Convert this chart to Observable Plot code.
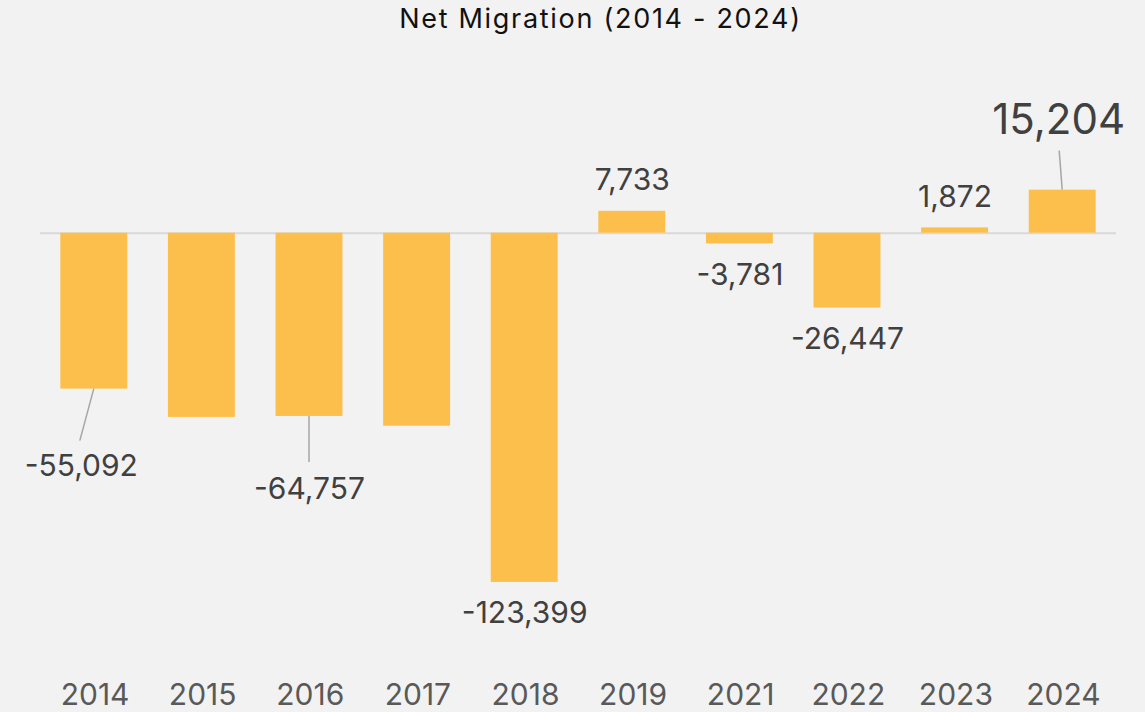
<!DOCTYPE html>
<html>
<head>
<meta charset="utf-8">
<script src="https://cdn.jsdelivr.net/npm/d3@7"></script>
<script src="https://cdn.jsdelivr.net/npm/@observablehq/plot@0.6"></script>
<style>
  html, body { margin: 0; padding: 0; background: #f2f2f2; }
  body { width: 1145px; height: 712px; overflow: hidden; font-family: Inter, "Noto Sans", sans-serif; }
  #title { height: 50px; box-sizing: border-box; padding-top: 4px; padding-left: 56px; text-align: center; font-size: 27px; line-height: 30px; letter-spacing: 1.7px; color: #111; }
  svg { display: block; }
</style>
</head>
<body>
<div id="title">Net Migration (2014 - 2024)</div>
<div id="chart"></div>
<script>
// ---- data ----
const years = ["2014","2015","2016","2017","2018","2019","2021","2022","2023","2024"];
const netMigration = [-55092, -65100, -64757, -68200, -123399, 7733, -3781, -26447, 1872, 15204];
const labelTexts = ["-55,092", null, "-64,757", null, "-123,399", "7,733", "-3,781", "-26,447", "1,872", "15,204"];

// ---- layout (styling, not data) ----
const W = 1145, H = 662;
const zeroPx = 182.7, pxPerUnit = 0.00283;
const yDomain = [-150000, 40000];
const defaultLabelGap = 31;
const special = {
  "2014": {dx: -13, dy: 77, lx: -14, ly: 52},
  "2016": {dx: 0, dy: 73, lx: 0, ly: 46},
  "2024": {dx: -4, dy: -70, lx: -3, ly: -39, size: 42}
};

const data = years.map((year, i) => ({year, value: netMigration[i], label: labelTexts[i]}));
const labelled = data.filter(d => d.label != null).map(d => {
  const s = special[d.year];
  const sign = d.value < 0 ? 1 : -1;
  return {...d,
    dx: s ? s.dx : 0,
    dy: s ? s.dy : sign * defaultLabelGap,
    size: s && s.size ? s.size : 30,
    lx: s ? s.lx : null, ly: s ? s.ly : null};
});
const normalLabels = labelled.filter(d => d.size === 30);
const bigLabels = labelled.filter(d => d.size !== 30);
const leaders = labelled.filter(d => d.lx != null);

const leaderMark = (index, scales) => {
  const g = d3.create("svg:g").attr("stroke", "#a6a6a6").attr("stroke-width", 1.5);
  const bw = typeof scales.x.bandwidth === "function" ? scales.x.bandwidth() : 0;
  for (const d of leaders) {
    const cx = scales.x(d.year) + bw / 2;
    const cy = scales.y(d.value);
    g.append("line").attr("x1", cx).attr("y1", cy).attr("x2", cx + d.lx).attr("y2", cy + d.ly);
  }
  return g.node();
};

const textMarks = (arr, size) => arr.map(d => Plot.text([d], {
  x: "year", y: "value", text: "label", dx: d.dx, dy: d.dy,
  fontSize: size, fill: "#404040", textAnchor: "middle", lineAnchor: "middle",
  style: {letterSpacing: "0.5px"}
}));

const chart = Plot.plot({
  width: W, height: H,
  marginLeft: 40, marginRight: 29, marginTop: 0, marginBottom: 32,
  style: {background: "#f2f2f2", fontFamily: "Inter, 'Noto Sans', sans-serif", overflow: "visible"},
  x: {domain: years, paddingInner: 0.378, paddingOuter: 0.189, round: false, label: null},
  y: {domain: yDomain, range: [zeroPx - pxPerUnit * yDomain[0], zeroPx - pxPerUnit * yDomain[1]], axis: null},
  marks: [
    Plot.ruleY([0], {stroke: "#d9d9d9", strokeWidth: 2}),
    Plot.barY(data, {x: "year", y: "value", fill: "#fdbf4b"}),
    leaderMark,
    ...textMarks(normalLabels, 30),
    ...textMarks(bigLabels, 42),
    Plot.axisX({tickSize: 0, tickPadding: 3, fontSize: 30, color: "#595959", label: null, dx: 0.8, style: {letterSpacing: "1.6px"}})
  ]
});
document.getElementById("chart").appendChild(chart);
</script>
</body>
</html>
